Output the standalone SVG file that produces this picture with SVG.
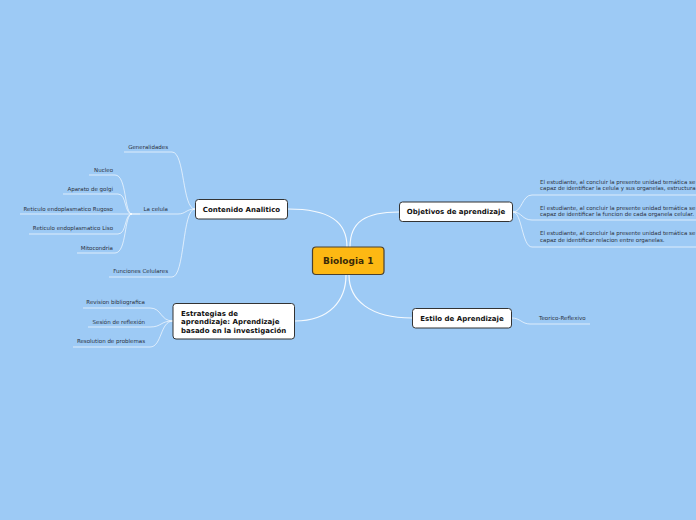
<svg xmlns="http://www.w3.org/2000/svg" width="696" height="520" viewBox="0 0 696 520">
<style>
.main{fill:none;stroke:#fff;stroke-width:1.2;opacity:0.9}
.sub{fill:none;stroke:#fff;stroke-width:1;opacity:0.65}
.box{fill:#fff;stroke:#333;stroke-width:1}
.lbl{font-family:"DejaVu Sans",Verdana,sans-serif;font-weight:bold;font-size:7px;fill:#111}
.sm{font-family:"DejaVu Sans",Verdana,sans-serif;font-size:5.5px;fill:#2a303c}
.r{text-anchor:end}
.c{text-anchor:middle}
</style>
<rect x="0" y="0" width="696" height="520" fill="#9dcaf5"/>
<g id="connectors">
<path class="main" d="M288,209 C330,209 347,222 347,247"/>
<path class="main" d="M399,212 C365,212 350,222 350,247"/>
<path class="main" d="M349,275 C349,300 370,318 412,318"/>
<path class="main" d="M346,275 C346,300 330,321 295,321"/>
<path class="sub" d="M195,209 C182,209 185,152 172,152 L124,152"/>
<path class="sub" d="M195,209 C186,209 186,214 178,214 L140,214"/>
<path class="sub" d="M195,209 C182,209 185,277 172,277 L109,277"/>
<path class="sub" d="M132,214 C124,214 127,175 115,175 L89,175"/>
<path class="sub" d="M132,214 C124,214 127,194 118,194 L63,194"/>
<path class="main" d="M140,214 L130,214"/>
<path class="sub" d="M130,214 L20,214"/>
<path class="sub" d="M132,214 C124,214 127,234 118,234 L29,234"/>
<path class="sub" d="M132,214 C124,214 127,253 115,253 L77,253"/>
<path class="sub" d="M513,212 C522,212 522,195 532,195 L696,195"/>
<path class="sub" d="M513,212 C522,212 522,220 532,220 L696,220"/>
<path class="sub" d="M513,212 C522,212 522,247 532,247 L696,247"/>
<path class="sub" d="M512,318 C520,318 522,324 530,324 L590,324"/>
<path class="sub" d="M173,321 C160,321 162,308 150,308 L83,308"/>
<path class="sub" d="M173,321 C160,321 162,327 150,327 L88,327"/>
<path class="sub" d="M173,321 C160,321 162,347 150,347 L73,347"/>
</g>
<g id="central">
<rect x="312.5" y="247" width="71.5" height="27.5" rx="3.5" fill="#fdb813" stroke="#4a4030" stroke-width="1.2"/>
<text class="lbl c" x="348.3" y="264.2" style="font-size:9px;fill:#3a2a08">Biologia 1</text>
</g>
<g id="contenido">
<rect class="box" x="195.5" y="199.5" width="92" height="19.5" rx="3"/>
<text class="lbl c" x="241.5" y="211.7">Contenido Analitico</text>
</g>
<g id="objetivos">
<rect class="box" x="399.5" y="202" width="113" height="19.5" rx="3"/>
<text class="lbl c" x="456" y="214.3">Objetivos de aprendizaje</text>
</g>
<g id="estilo">
<rect class="box" x="412.5" y="308.5" width="99" height="19.5" rx="3"/>
<text class="lbl c" x="462" y="320.8">Estilo de Aprendizaje</text>
</g>
<g id="estrategias">
<rect class="box" x="173" y="303.5" width="121.5" height="35.5" rx="3"/>
<text class="lbl" x="181" y="315.8">Estrategias de</text>
<text class="lbl" x="181" y="324.3">aprendizaje: Aprendizaje</text>
<text class="lbl" x="181" y="332.8">basado en la investigación</text>
</g>
<g id="generalidades"><text class="sm r" x="168" y="149">Generalidades</text></g>
<g id="lacelula"><text class="sm r" x="168" y="211">La celula</text></g>
<g id="funciones"><text class="sm r" x="168" y="273">Funciones Celulares</text></g>
<g id="nucleo"><text class="sm r" x="113" y="172">Nucleo</text></g>
<g id="golgi"><text class="sm r" x="113" y="190.5">Aparato de golgi</text></g>
<g id="rugoso"><text class="sm r" x="113" y="211">Reticulo endoplasmatico Rugoso</text></g>
<g id="liso"><text class="sm r" x="113" y="230.2">Reticulo endoplasmatico Liso</text></g>
<g id="mitocondria"><text class="sm r" x="113" y="249.7">Mitocondria</text></g>
<g id="obj1"><text class="sm" x="540" y="183.7">El estudiante, al concluir la presente unidad temática se</text><text class="sm" x="540" y="190.4">capaz de identificar la celula y sus organelas, estructura</text></g>
<g id="obj2"><text class="sm" x="540" y="209.7">El estudiante, al concluir la presente unidad temática se</text><text class="sm" x="540" y="216.2">capaz de identificar la funcion de cada organela celular.</text></g>
<g id="obj3"><text class="sm" x="540" y="235.4">El estudiante, al concluir la presente unidad temática se</text><text class="sm" x="540" y="242.1">capaz de identificar relacion entre organelas.</text></g>
<g id="teorico"><text class="sm" x="539" y="320">Teorico-Reflexivo</text></g>
<g id="revision"><text class="sm r" x="145" y="304">Revision bibliografica</text></g>
<g id="sesion"><text class="sm r" x="145" y="324">Sesión de reflexión</text></g>
<g id="resolution"><text class="sm r" x="145" y="343.2">Resolution de problemas</text></g>
</svg>
